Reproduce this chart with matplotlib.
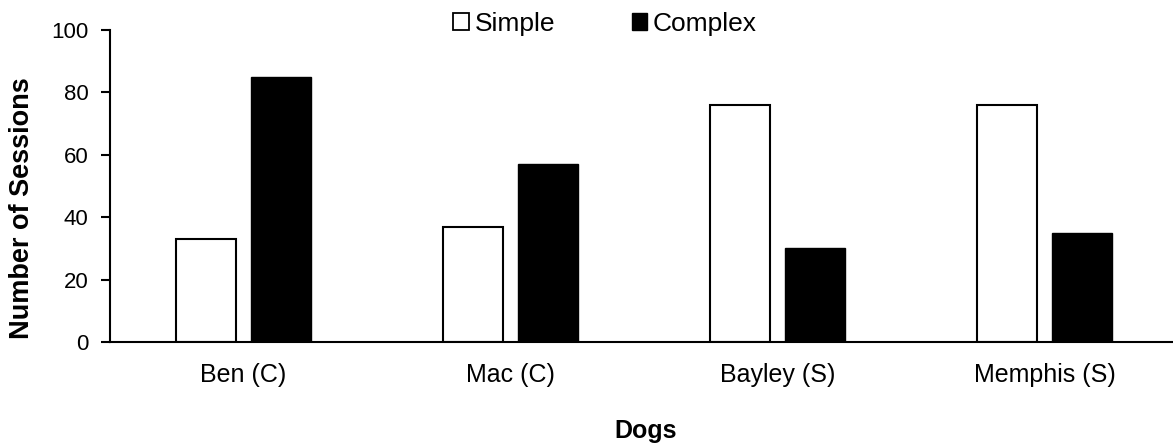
import matplotlib.pyplot as plt
import numpy as np
from matplotlib.patches import Patch

dogs = ['Ben (C)', 'Mac (C)', 'Bayley (S)', 'Memphis (S)']
simple = [33, 37, 76, 76]
complex_ = [85, 57, 30, 35]

plt.rcParams['font.family'] = ['Liberation Sans', 'DejaVu Sans']

x = np.arange(len(dogs))
width = 0.225
offset = 0.142

W, H = 1173, 444
fig = plt.figure(figsize=(W / 100, H / 100), dpi=100)
ax = fig.add_axes([110 / W, 1 - 342 / H, 1068 / W, 312 / H])

ax.bar(x - offset, simple, width, color='white', edgecolor='black', linewidth=1.5)
ax.bar(x + offset, complex_, width, color='black', edgecolor='black', linewidth=1.0)

ax.set_xlim(-0.5, len(dogs) - 0.5)
ax.set_ylim(0, 100)
ax.set_yticks(range(0, 101, 20))
ax.tick_params(axis='y', direction='out', length=6.5, width=1.5, labelsize=16, pad=9)
ax.tick_params(axis='x', length=0, pad=15, labelsize=18)
ax.set_xticks(x)
ax.set_xticklabels(dogs)

for side in ['top', 'right']:
    ax.spines[side].set_visible(False)
ax.spines['left'].set_linewidth(1.5)
ax.spines['bottom'].set_linewidth(1.5)

fig.text(22 / W, 1 - 208 / H, 'Number of Sessions', rotation=90, ha='center', va='center',
         fontweight='bold', fontsize=19.5)
fig.text(646 / W, 1 - 431 / H, 'Dogs', ha='center', va='center',
         fontweight='bold', fontsize=18)

handles = [Patch(facecolor='white', edgecolor='black', linewidth=1.3),
           Patch(facecolor='black', edgecolor='black')]
fig.legend(handles, ['Simple', 'Complex'], loc='center', bbox_to_anchor=(605 / W, 1 - 24 / H),
           ncol=2, frameon=False, handlelength=0.6, handleheight=0.6, handletextpad=0.2,
           columnspacing=2.9, borderpad=0, prop={'size': 19})

fig.savefig('out.png', dpi=100)
